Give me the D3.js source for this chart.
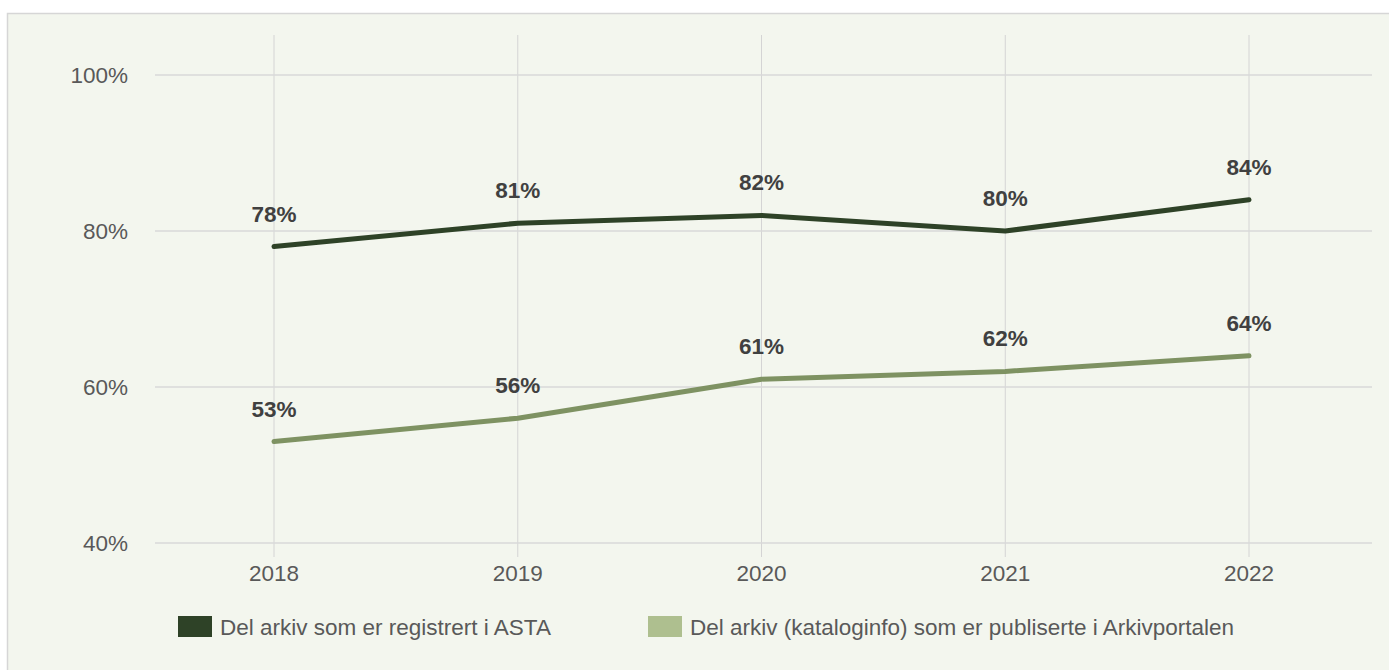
<!DOCTYPE html>
<html>
<head>
<meta charset="utf-8">
<script src="https://cdn.jsdelivr.net/npm/d3@7"></script>
<style>
  html, body { margin: 0; padding: 0; background: #fff; }
  svg { display: block; font-family: "Liberation Sans", Arial, sans-serif; }
</style>
</head>
<body>
<div id="chart"></div>
<script>
// Data
const years = ["2018", "2019", "2020", "2021", "2022"];
const astaValues = [78, 81, 82, 80, 84];
const portalValues = [53, 56, 61, 62, 64];
const yTicks = [40, 60, 80, 100];
const seriesNames = [
  "Del arkiv som er registrert i ASTA",
  "Del arkiv (kataloginfo) som er publiserte i Arkivportalen"
];

// Dimensions
const width = 1389;
const height = 670;
const marginLeft = 155;
const marginRight = 17;
const plotTop = 75;
const plotBottom = 543;

const darkCol = "#2e4227";
const lightCol = "#7e9262";
const legendLight = "#aebf8f";

const x = d3.scalePoint()
    .domain(years)
    .range([274, 1249]);

const y = d3.scaleLinear()
    .domain([40, 100])
    .range([plotBottom, plotTop]);

const svg = d3.select("#chart").append("svg")
    .attr("width", width)
    .attr("height", height);

// background panel with border
svg.append("rect")
    .attr("x", 7.5).attr("y", 13.5)
    .attr("width", width + 20).attr("height", height + 20)
    .attr("fill", "#f3f6ee")
    .attr("stroke", "#d6d6d6")
    .attr("stroke-width", 1.5);

// vertical gridlines
svg.append("g")
  .selectAll("line")
  .data(years)
  .join("line")
    .attr("x1", d => x(d)).attr("x2", d => x(d))
    .attr("y1", 35).attr("y2", 557)
    .attr("stroke", "#d4d4d4")
    .attr("stroke-width", 1);

// horizontal gridlines
svg.append("g")
  .selectAll("line")
  .data(yTicks)
  .join("line")
    .attr("x1", marginLeft).attr("x2", width - marginRight)
    .attr("y1", d => y(d)).attr("y2", d => y(d))
    .attr("stroke", "#d9d9d9")
    .attr("stroke-width", 1.5);

// y labels
svg.append("g")
  .selectAll("text")
  .data(yTicks)
  .join("text")
    .attr("x", 128)
    .attr("y", d => y(d) + 8)
    .attr("text-anchor", "end")
    .attr("font-size", 22.5)
    .attr("fill", "#595959")
    .text(d => d + "%");

// x labels
svg.append("g")
  .selectAll("text")
  .data(years)
  .join("text")
    .attr("x", d => x(d))
    .attr("y", 581)
    .attr("text-anchor", "middle")
    .attr("font-size", 22.5)
    .attr("fill", "#595959")
    .text(d => d);

const series = [
  { name: seriesNames[0], values: astaValues, color: darkCol, legend: darkCol },
  { name: seriesNames[1], values: portalValues, color: lightCol, legend: legendLight }
];

const line = d3.line()
    .x((d, i) => x(years[i]))
    .y(d => y(d));

series.forEach(s => {
  svg.append("path")
      .attr("d", line(s.values))
      .attr("fill", "none")
      .attr("stroke", s.color)
      .attr("stroke-width", 5)
      .attr("stroke-linecap", "round")
      .attr("stroke-linejoin", "round");

  svg.append("g")
    .selectAll("text")
    .data(s.values)
    .join("text")
      .attr("x", (d, i) => x(years[i]))
      .attr("y", d => y(d) - 25)
      .attr("text-anchor", "middle")
      .attr("font-size", 22.5)
      .attr("font-weight", "bold")
      .attr("fill", "#404040")
      .text(d => d + "%");
});

// legend
const legendX = [178, 648];
series.forEach((s, i) => {
  const g = svg.append("g").attr("transform", `translate(${legendX[i]},616)`);
  g.append("rect")
      .attr("width", 34).attr("height", 21)
      .attr("fill", s.legend);
  g.append("text")
      .attr("x", 42).attr("y", 19)
      .attr("font-size", 22.5)
      .attr("fill", "#595959")
      .text(s.name);
});
</script>
</body>
</html>
